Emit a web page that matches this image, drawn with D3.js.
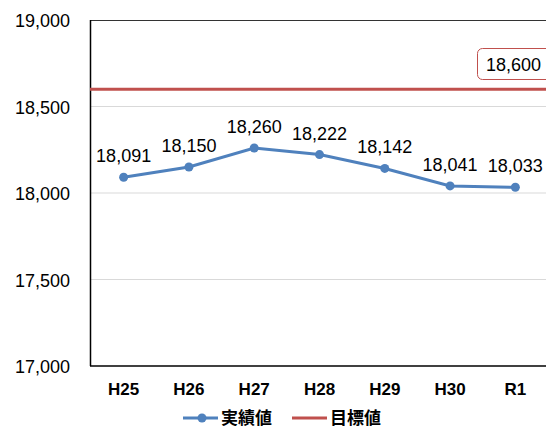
<!DOCTYPE html>
<html><head><meta charset="utf-8">
<script src="https://cdn.jsdelivr.net/npm/d3@7"></script>
<style>body{margin:0;background:#fff}svg{display:block}</style>
</head><body>
<script>
const categories = ["H25","H26","H27","H28","H29","H30","R1"];
const actual = [18091,18150,18260,18222,18142,18041,18033];
const target = 18600;
const yTicks = [17000,17500,18000,18500,19000];
const seriesNames = ["実績値","目標値"];

const W=546,H=429;
const svg=d3.select("body").append("svg").attr("width",W).attr("height",H);
const L=90,R=546,T=20,B=366;
const x=d3.scalePoint().domain(categories).range([91,548]).padding(0.5);
const y=d3.scaleLinear().domain([17000,19000]).range([B,T]);
const numFont="'Liberation Sans', Arial, sans-serif";
const jpFont="'Noto Sans CJK JP', sans-serif";

// gridlines
svg.append("g").selectAll("line").data(yTicks.filter(d=>d>17000&&d<19000)).join("line")
 .attr("x1",L).attr("x2",W).attr("y1",d=>y(d)).attr("y2",d=>y(d))
 .attr("stroke","#d9d9d9").attr("stroke-width",1);
// borders
svg.append("line").attr("x1",L).attr("x2",W).attr("y1",T+0.5).attr("y2",T+0.5).attr("stroke","#333").attr("stroke-width",1);
svg.append("line").attr("x1",L+0.5).attr("x2",L+0.5).attr("y1",T).attr("y2",B).attr("stroke","#000").attr("stroke-width",1.5);
svg.append("line").attr("x1",L).attr("x2",W).attr("y1",B).attr("y2",B).attr("stroke","#000").attr("stroke-width",1.5);

// y tick labels
svg.append("g").selectAll("text").data(yTicks).join("text")
 .attr("x",70).attr("y",d=>y(d)+7).attr("text-anchor","end")
 .attr("font-family",numFont).attr("font-size",18).attr("fill","#000")
 .text(d=>d3.format(",")(d));
// x tick labels
svg.append("g").selectAll("text").data(categories).join("text")
 .attr("x",d=>x(d)).attr("y",395).attr("text-anchor","middle")
 .attr("font-family",numFont).attr("font-weight","bold").attr("font-size",17).attr("fill","#000")
 .text(d=>d);

// target line
svg.append("line").attr("x1",L).attr("x2",W).attr("y1",y(target)).attr("y2",y(target))
 .attr("stroke","#c0504d").attr("stroke-width",3);
// target label box
svg.append("rect").attr("x",477.5).attr("y",48.5).attr("width",80).attr("height",31).attr("rx",5)
 .attr("fill","#fff").attr("stroke","#c0504d").attr("stroke-width",1);
svg.append("text").attr("x",486).attr("y",71).attr("font-family",numFont).attr("font-size",18).attr("fill","#000")
 .text(d3.format(",")(target));

// actual line
const data=categories.map((c,i)=>({c,v:actual[i]}));
svg.append("path").datum(data).attr("fill","none").attr("stroke","#4f81bd").attr("stroke-width",3)
 .attr("d",d3.line().x(d=>x(d.c)).y(d=>y(d.v)));
svg.append("g").selectAll("circle").data(data).join("circle")
 .attr("cx",d=>x(d.c)).attr("cy",d=>y(d.v)).attr("r",4.5).attr("fill","#4f81bd");
svg.append("g").selectAll("text").data(data).join("text")
 .attr("x",d=>x(d.c)).attr("y",d=>y(d.v)-15).attr("text-anchor","middle")
 .attr("font-family",numFont).attr("font-size",18).attr("fill","#000")
 .text(d=>d3.format(",")(d.v));

// legend
const lg=svg.append("g");
lg.append("line").attr("x1",183).attr("x2",218).attr("y1",418).attr("y2",418).attr("stroke","#4f81bd").attr("stroke-width",3);
lg.append("circle").attr("cx",202).attr("cy",418).attr("r",4.5).attr("fill","#4f81bd");
lg.append("text").attr("x",221).attr("y",424).attr("font-family",jpFont).attr("font-weight","bold").attr("font-size",17).text(seriesNames[0]);
lg.append("line").attr("x1",292).attr("x2",327).attr("y1",418).attr("y2",418).attr("stroke","#c0504d").attr("stroke-width",3);
lg.append("text").attr("x",330).attr("y",424).attr("font-family",jpFont).attr("font-weight","bold").attr("font-size",17).text(seriesNames[1]);
</script>
</body></html>
